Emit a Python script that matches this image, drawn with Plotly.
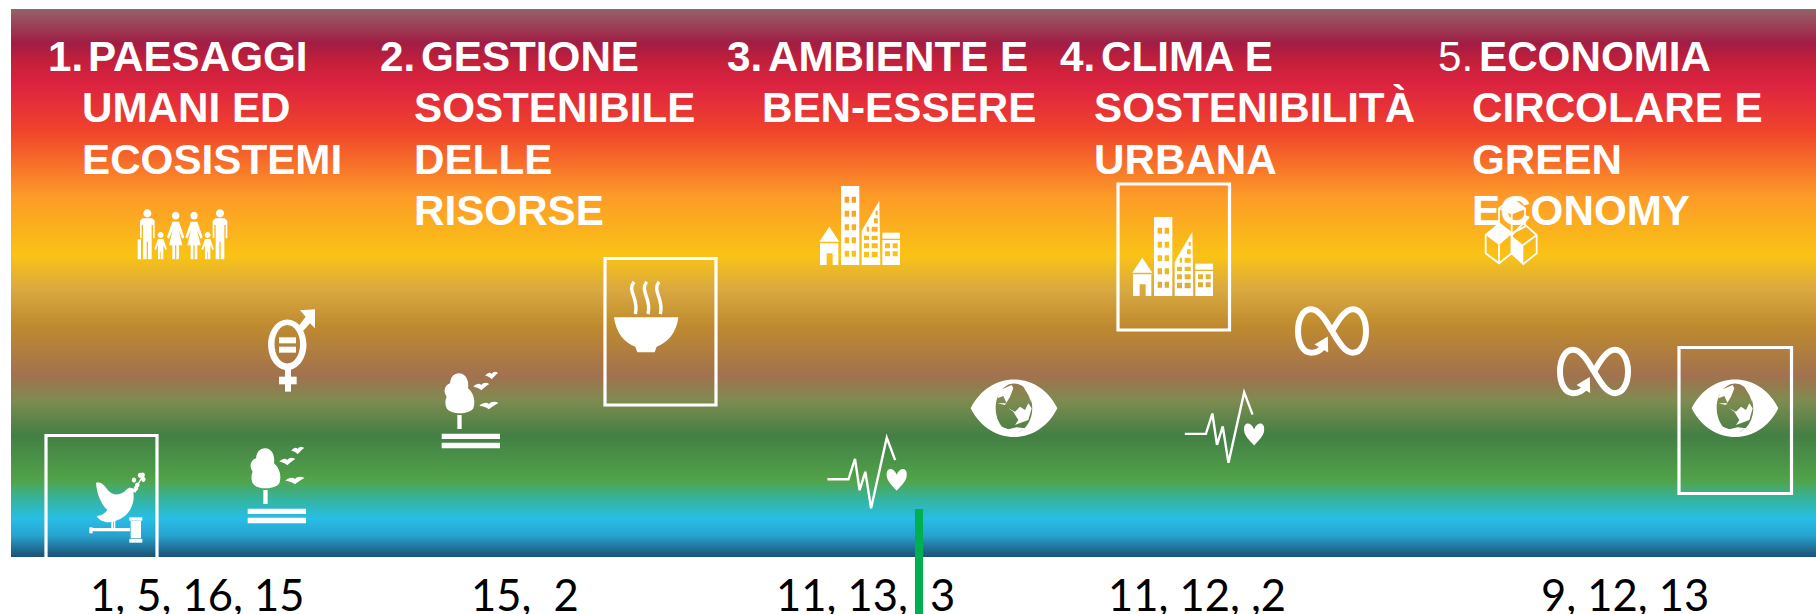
import plotly.graph_objects as go

# ---- content ----
group_numbers = ["1.", "2.", "3.", "4.", "5."]
group_lines = [
    ["PAESAGGI", "UMANI ED", "ECOSISTEMI"],
    ["GESTIONE", "SOSTENIBILE", "DELLE", "RISORSE"],
    ["AMBIENTE E", "BEN-ESSERE"],
    ["CLIMA E", "SOSTENIBILITÀ", "URBANA"],
    ["ECONOMIA", "CIRCOLARE E", "GREEN", "ECONOMY"],
]
goal_labels = ["1, 5, 16, 15", "15,  2", "11, 13,", "3", "11, 12, ,2", "9, 12, 13"]

# gradient: vertical colour bands of the background
band_rows = [9, 43, 62, 85, 130, 195, 255, 290, 325, 375, 400, 435, 480, 500, 518, 535, 557]
band_colors = ["#946267", "#A21C44", "#C5203A", "#DD2340", "#F0432B", "#FD9A28", "#F9C315",
               "#D9A841", "#BF8B2E", "#A2714F", "#7E8B50", "#437F44", "#51A34A", "#33B5A4",
               "#27BEE6", "#27A3CF", "#1A4E72"]

W = "#FFFFFF"
FW = 1816
FH = 614
shapes = []


def fill(path, rule="evenodd"):
    shapes.append(dict(type="path", path=path, xref="x", yref="y", fillcolor=W,
                       fillrule=rule, line=dict(width=0), layer="above"))


def stroke(path, width):
    shapes.append(dict(type="path", path=path, xref="x", yref="y",
                       fillcolor="rgba(0,0,0,0)", line=dict(color=W, width=width), layer="above"))


def tr(ox, oy, s):
    """returns function turning crop coords to page pixels"""
    return lambda x, y: f"{ox + x / s:.2f},{oy + y / s:.2f}"


def poly(t, pts):
    return "M" + " L".join(t(*p) for p in pts) + " Z"


def rect(t, x0, y0, x1, y1):
    return poly(t, [(x0, y0), (x1, y0), (x1, y1), (x0, y1)])


def ell(cx, cy, rx, ry):
    k = 0.5523
    kx, ky = rx * k, ry * k
    return (f"M{cx-rx:.2f},{cy:.2f} "
            f"C{cx-rx:.2f},{cy-ky:.2f} {cx-kx:.2f},{cy-ry:.2f} {cx:.2f},{cy-ry:.2f} "
            f"C{cx+kx:.2f},{cy-ry:.2f} {cx+rx:.2f},{cy-ky:.2f} {cx+rx:.2f},{cy:.2f} "
            f"C{cx+rx:.2f},{cy+ky:.2f} {cx+kx:.2f},{cy+ry:.2f} {cx:.2f},{cy+ry:.2f} "
            f"C{cx-kx:.2f},{cy+ry:.2f} {cx-rx:.2f},{cy+ky:.2f} {cx-rx:.2f},{cy:.2f} Z")


def curve(t, start, segs, close=True):
    p = "M" + t(*start)
    for a, b, c in segs:
        p += " C" + t(*a) + " " + t(*b) + " " + t(*c)
    return p + (" Z" if close else "")


def box(x0, y0, x1, y1):
    shapes.append(dict(type="rect", x0=x0, y0=y0, x1=x1, y1=y1, xref="x", yref="y",
                       line=dict(color=W, width=3.2), fillcolor="rgba(0,0,0,0)", layer="above"))


# ---- icons ----
def family():
    t = tr(130, 200, 3)

    def man(c):
        fill(ell(130 + c / 3, 200 + 40 / 3, 4, 4.2))
        fill(poly(t, [(c-22, 62), (c-14, 55), (c+14, 55), (c+22, 62), (c+22, 115), (c+17, 115), (c+17, 75),
                      (c+13, 75), (c+13, 178), (c+2, 178), (c+2, 125), (c-2, 125), (c-2, 178), (c-13, 178),
                      (c-13, 75), (c-17, 75), (c-17, 115), (c-22, 115)]))

    def woman(c):
        fill(ell(130 + c / 3, 200 + 47 / 3, 3.7, 3.9))
        fill(poly(t, [(c-10, 65), (c+10, 65), (c+26, 112), (c+20, 116), (c+9, 90), (c+20, 136), (c+10, 136), (c+10, 178),
                      (c+2, 178), (c+2, 136), (c-2, 136), (c-2, 178), (c-10, 178), (c-10, 136), (c-20, 136),
                      (c-9, 90), (c-20, 116), (c-26, 112)]))

    def kid(c):
        fill(ell(130 + c / 3, 200 + 105 / 3, 2.9, 3))
        fill(poly(t, [(c-8, 117), (c+8, 117), (c+19, 148), (c+14, 150), (c+8, 135), (c+8, 178), (c+1, 178), (c+1, 155),
                      (c-1, 155), (c-1, 178), (c-8, 178), (c-8, 135), (c-14, 150), (c-19, 148)]))

    man(52)
    fill(rect(t, 23, 118, 33, 178))
    woman(137)
    woman(192)
    man(270)
    kid(92)
    kid(233)


def gender():
    t = tr(130, 200, 3)
    fill(ell(287.3, 344.7, 19.2, 25.3) + " " + ell(287.3, 344.3, 12.8, 19.2))
    fill(rect(t, 447, 412, 498, 430))
    fill(rect(t, 447, 440, 498, 458))
    fill(rect(t, 465, 500, 483, 575))
    fill(rect(t, 447, 530, 500, 553))
    fill(poly(t, [(510, 331), (555, 328), (555, 385), (540, 370), (520, 392), (506, 378), (527, 350)]))


def tree(dx, dy):
    t = tr(80 + dx, 430 + dy, 3)
    fill(curve(t, (555, 55), [((580, 55), (585, 85), (582, 100)), ((600, 115), (605, 140), (598, 160)),
                              ((585, 180), (530, 180), (518, 160)), ((510, 140), (518, 125), (518, 125)),
                              ((505, 105), (515, 90), (528, 85)), ((530, 65), (540, 55), (555, 55))]))
    fill(rect(t, 550, 180, 563, 222))
    fill(rect(t, 503, 236, 678, 252))
    fill(rect(t, 503, 263, 678, 280))
    for bx, by, bw in [(598, 95, 1.0), (634, 62, 0.8), (616, 152, 1.2)]:
        fill(curve(t, (bx, by), [((bx+10*bw, by-10), (bx+18*bw, by-11), (bx+24*bw, by-5)),
                                 ((bx+30*bw, by-13), (bx+38*bw, by-14), (bx+48*bw, by-8)),
                                 ((bx+38*bw, by-2), (bx+30*bw, by+5), (bx+24*bw, by+11)),
                                 ((bx+18*bw, by+4), (bx+10*bw, by+2), (bx, by))]))


def dove():
    t = tr(80, 430, 3)
    fill(curve(t, (48, 158), [((72, 152), (78, 180), (95, 190)), ((110, 198), (130, 192), (140, 178)),
                              ((148, 170), (158, 172), (168, 182)), ((165, 185), (162, 186), (160, 188)),
                              ((166, 225), (145, 262), (105, 273)), ((85, 281), (60, 276), (50, 258)),
                              ((65, 257), (76, 250), (82, 240)), ((62, 220), (50, 190), (48, 158))]))
    fill(rect(t, 94, 268, 99, 294))
    fill(rect(t, 101, 268, 106, 294))
    stroke(curve(t, (165, 188), [((170, 170), (180, 150), (190, 136))], close=False), 1.2)
    for lx, ly in [(162, 150), (172, 165), (190, 148), (180, 136), (188, 135), (168, 175)]:
        fill(ell(80 + lx / 3, 430 + ly / 3, 2.2, 2.6))
    fill(rect(t, 28, 292, 38, 310))
    fill(rect(t, 36, 294, 150, 304))
    fill(rect(t, 148, 262, 187, 272))
    fill(rect(t, 152, 273, 183, 325))
    fill(rect(t, 148, 327, 187, 338))


def bowl():
    t = tr(610, 275, 3)
    fill(curve(t, (12, 127), [((80, 127), (140, 127), (205, 127)), ((200, 175), (170, 205), (140, 215)),
                              ((138, 220), (136, 226), (134, 232)), ((115, 232), (100, 232), (82, 232)),
                              ((80, 226), (78, 220), (76, 215)), ((45, 205), (18, 175), (12, 127))]))
    for dx in (0, 38, 75):
        stroke(curve(t, (72 + dx, 20), [((50 + dx, 50), (88 + dx, 70), (76 + dx, 117))], close=False), 3.4)


def city(dx, dy):
    t = tr(810 + dx, 180 + dy, 3)
    fill(poly(t, [(58, 140), (88, 185), (28, 185)]))
    fill(rect(t, 30, 190, 85, 255) + " " + rect(t, 50, 220, 68, 255))
    p = rect(t, 93, 18, 148, 255)
    for ry in (50, 92, 133, 172, 212):
        p += " " + rect(t, 104, ry, 117, ry + 18) + " " + rect(t, 125, ry, 138, ry + 18)
    fill(p)
    p = poly(t, [(155, 152), (208, 62), (211, 255), (155, 255)])
    for a, b, c, d in [(162, 167, 177, 180), (185, 167, 203, 180), (162, 190, 177, 205), (185, 190, 203, 205),
                       (162, 215, 177, 232), (185, 215, 203, 232), (185, 140, 203, 155), (192, 115, 203, 130),
                       (197, 92, 203, 105), (170, 140, 177, 155)]:
        p += " " + rect(t, a, b, c, d)
    fill(p)
    fill(rect(t, 217, 158, 270, 176))
    p = rect(t, 217, 180, 270, 255)
    for rw in (190, 214):
        p += " " + rect(t, 225, rw, 240, rw + 15) + " " + rect(t, 248, rw, 263, rw + 15)
    fill(p)


def eye(dx):
    t = tr(960 + dx, 370, 3)
    cx = 1014 + dx
    fill("M" + t(32, 115) + " C" + t(90, 0) + " " + t(235, 0) + " " + t(292, 115)
         + " C" + t(235, 230) + " " + t(90, 230) + " " + t(32, 115) + " Z " + ell(cx, 408, 18.3, 24.6))
    # white sea over the dark land of the globe
    fill(poly(t, [(155, 45), (120, 60), (112, 85), (130, 78), (140, 100), (112, 100), (135, 105), (150, 80), (160, 55)]))
    fill(poly(t, [(145, 115), (160, 125), (175, 150), (165, 165), (205, 150), (215, 115), (205, 100), (195, 120), (180, 110), (165, 125)]))
    fill(poly(t, [(125, 170), (145, 178), (170, 172), (195, 175), (165, 192), (135, 190)]))
    fill(poly(t, [(190, 50), (205, 75), (215, 100), (212, 70)]))


def pulse(dx, dy):
    pts = [(333, 1224), (388, 1224), (405, 1172), (417, 1252), (432, 1205), (447, 1298), (488, 1118), (510, 1175)]
    path = "M" + " L".join(f"{700 + dx + x / 2.613:.2f},{dy + y / 2.554:.2f}" for x, y in pts)
    stroke(path, 2.4)
    hx, hy = 700 + dx + 514 / 2.613, dy + 1200 / 2.554
    fill(f"M{hx:.2f},{hy+5:.2f} C{hx-3:.2f},{hy-3:.2f} {hx-11:.2f},{hy-3:.2f} {hx-10:.2f},{hy+6:.2f} "
         f"C{hx-9.5:.2f},{hy+12:.2f} {hx-4:.2f},{hy+16:.2f} {hx:.2f},{hy+21:.2f} "
         f"C{hx+4:.2f},{hy+16:.2f} {hx+9.5:.2f},{hy+12:.2f} {hx+10:.2f},{hy+6:.2f} "
         f"C{hx+11:.2f},{hy-3:.2f} {hx+3:.2f},{hy-3:.2f} {hx:.2f},{hy+5:.2f} Z")


def infinity(cx, cy):
    t = tr(cx, cy, 1)
    stroke(curve(t, (-9, 16), [((-12, 20), (-16, 21.7), (-21, 21.7)), ((-29, 21.7), (-34, 12), (-34, 0)),
                               ((-34, -12), (-29, -21.7), (-21, -21.7)), ((-12, -21.7), (-5, -8), (0, 0)),
                               ((5, 8), (12, 21.7), (21, 21.7)), ((29, 21.7), (34, 12), (34, 0)),
                               ((34, -12), (29, -21.7), (21, -21.7)), ((12, -21.7), (5, -8), (0, 0))],
                 close=False), 6)
    fill(poly(t, [(-4.2, 5.5), (-3.8, 21.5), (-17.5, 13.5)]))


def cubes():
    t = tr(1470, 190, 3)
    for pts in [[(125, 25), (165, 55), (165, 110), (125, 130), (87, 100), (87, 55), (125, 25), (125, 70), (87, 55)],
                [(125, 70), (165, 55)], [(125, 70), (125, 130)],
                [(87, 102), (47, 135), (47, 190), (87, 220), (125, 190), (125, 135), (87, 102)],
                [(87, 165), (87, 220)],
                [(160, 100), (200, 135), (200, 190), (160, 222), (125, 190), (125, 135), (160, 100)],
                [(160, 165), (200, 135)]]:
        stroke("M" + " L".join(t(*p) for p in pts), 1.8)
    fill(poly(t, [(87, 102), (125, 132), (87, 165), (47, 135)]))
    fill(poly(t, [(125, 138), (160, 165), (160, 222), (125, 190)]))
    fill(poly(t, [(125, 25), (165, 55), (125, 72), (95, 50)]))


# white margins round the gradient band
for x0, y0, x1, y1 in [(0, 0, FW, 9), (0, 0, 11, FH), (0, 557, FW, FH)]:
    shapes.append(dict(type="rect", x0=x0, y0=y0, x1=x1, y1=y1, xref="x", yref="y",
                       fillcolor=W, line=dict(width=0), layer="above"))

box(46, 435.5, 157, 581)
box(605, 258.5, 716, 405)
box(1118, 184, 1229.5, 330)
box(1679, 347.5, 1791.5, 493.5)

family()
gender()
tree(0, 0)
tree(194, -75)
dove()
bowl()
city(0, 0)
city(313, 31)
eye(0)
eye(721)
pulse(0, 0)
pulse(357.4, -45.4)
infinity(1332, 331)
infinity(1594, 371.5)
cubes()

# green marker in the lower band
shapes.append(dict(type="rect", x0=915, x1=923, y0=509, y1=FH, xref="x", yref="y",
                   fillcolor="#00B050", line=dict(width=0), layer="above"))

# ---- figure ----
span = band_rows[-1] - band_rows[0]
scale = [[(r - band_rows[0]) / span, c] for r, c in zip(band_rows, band_colors)]
fig = go.Figure(go.Heatmap(
    x=[11, FW],
    y=band_rows,
    z=[[r, r] for r in band_rows],
    colorscale=scale,
    zmin=band_rows[0],
    zmax=band_rows[-1],
    zsmooth="best",
    showscale=False,
    hoverinfo="skip",
))

ann = []
line_y = [56, 107, 159, 210]
num_x = [47, 379, 726, 1059, 1437]
first_x = [87, 420, 767, 1100, 1478]
rest_x = [81, 413, 761, 1093, 1471]
for g, (num, lines) in enumerate(zip(group_numbers, group_lines)):
    ann.append(dict(x=num_x[g], y=line_y[0], text=num if g == 4 else f"<b>{num}</b>"))
    for i, ln in enumerate(lines):
        ann.append(dict(x=first_x[g] if i == 0 else rest_x[g], y=line_y[i], text=f"<b>{ln}</b>"))
for a in ann:
    a.update(xref="x", yref="y", xanchor="left", yanchor="middle", showarrow=False, borderpad=0,
             font=dict(family="Liberation Sans", size=42.2, color=W))

label_x = [89, 470, 775, 929, 1107, 1540]
for x, txt in zip(label_x, goal_labels):
    ann.append(dict(x=x, y=594, text=txt, xref="x", yref="y", xanchor="left", yanchor="middle",
                    showarrow=False, borderpad=0,
                    font=dict(family="Lato", size=43.5, color="#000000")))

fig.update_layout(
    width=FW, height=FH,
    margin=dict(l=0, r=0, t=0, b=0),
    paper_bgcolor=W, plot_bgcolor=W,
    xaxis=dict(range=[0, FW], visible=False, fixedrange=True),
    yaxis=dict(range=[FH, 0], visible=False, fixedrange=True),
    shapes=shapes,
    annotations=ann,
    showlegend=False,
)
fig.write_html("out.html", config={"displayModeBar": False},
               post_script="document.body.style.margin='0';document.body.style.overflow='hidden';")
